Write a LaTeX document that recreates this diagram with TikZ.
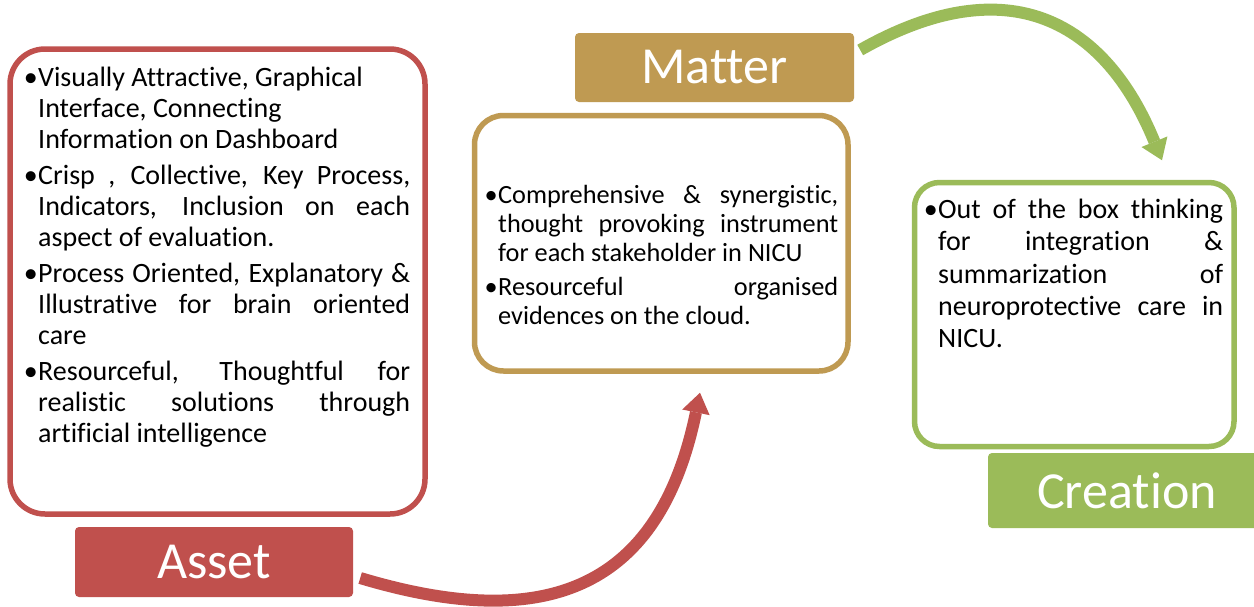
\documentclass[tikz,border=0pt]{standalone}
\usepackage{fontspec}
\setmainfont{Carlito}[Ligatures={NoCommon}]
\usetikzlibrary{arrows.meta,calc}

\definecolor{assetred}{HTML}{C0504D}
\definecolor{mattergold}{HTML}{BF9A52}
\definecolor{creategreen}{HTML}{9BBB59}

% bullet hanging to the left of a line, and a line stretched to a fixed width
\newcommand\bulletmark{\llap{•\hspace{0.5pt}}}
\newcommand\jline[2]{\makebox[#1][s]{#2}}

\tikzset{
  panel/.style={draw=#1, line width=5.5pt, fill=white, inner sep=0pt},
  tag/.style={fill=#1, rounded corners=4pt, inner sep=0pt, text=white,
              font=\fontsize{52}{60}\selectfont},
  bodyline/.style={anchor=base west, inner sep=0pt, font=\fontsize{28}{31}\selectfont},
  smallline/.style={anchor=base west, inner sep=0pt, font=\fontsize{26.3}{29}\selectfont},
  flow/.style={draw=#1, line width=12pt,
               -{Triangle[length=20pt,width=28pt,line width=0pt]}},
}

\begin{document}
\begin{tikzpicture}[x=1pt,y=-1pt]
\useasboundingbox (0,0) rectangle (1254,606);
\clip (0,0) rectangle (1254,606);
\fill[white] (0,0) rectangle (1254,606);

% content panels
\node[panel=assetred, rounded corners=35pt, minimum width=415pt, minimum height=465pt]
  (assetbox) at (217.5,281.5) {};
\node[panel=mattergold, rounded corners=29pt, minimum width=373.5pt, minimum height=255.5pt]
  (matterbox) at (661.25,243.25) {};
\node[panel=creategreen, rounded corners=25pt, minimum width=319.5pt, minimum height=264pt]
  (createbox) at (1074.25,314.5) {};

% title tags
\node[tag=assetred, minimum width=278pt, minimum height=70pt] (assettag) at (214,562) {Asset};
\node[tag=mattergold, minimum width=279pt, minimum height=69pt] (mattertag) at (714.5,67.5) {Matter};
\node[tag=creategreen, minimum width=278pt, minimum height=75pt] (createtag) at (1127,490.5) {Creation};

% Asset panel text
\node[bodyline] (a1) at (38,86.5) {\bulletmark Visually Attractive, Graphical};
\node[bodyline] (a2) at (38,117.5) {Interface, Connecting};
\node[bodyline] (a3) at (38,148.5) {Information on Dashboard};
\node[bodyline] (a4) at (38,184) {\bulletmark\jline{372pt}{Crisp , Collective, Key Process,}};
\node[bodyline] (a5) at (38,215) {\jline{372pt}{Indicators, Inclusion on each}};
\node[bodyline] (a6) at (38,246) {aspect of evaluation.};
\node[bodyline] (a7) at (38,282) {\bulletmark\jline{372pt}{Process Oriented, Explanatory \&}};
\node[bodyline] (a8) at (38,313) {\jline{372pt}{Illustrative for brain oriented}};
\node[bodyline] (a9) at (38,344) {care};
\node[bodyline] (a10) at (38,380) {\bulletmark\jline{372pt}{Resourceful, Thoughtful for}};
\node[bodyline] (a11) at (38,411) {\jline{372pt}{realistic solutions through}};
\node[bodyline] (a12) at (38,442) {artificial intelligence};

% Matter panel text
\node[smallline] (m1) at (498,203) {\bulletmark\jline{340pt}{Comprehensive \& synergistic,}};
\node[smallline] (m2) at (498,232) {\jline{340pt}{thought provoking instrument}};
\node[smallline] (m3) at (498,261) {for each stakeholder in NICU};
\node[smallline] (m4) at (498,295) {\bulletmark\jline{340pt}{Resourceful organised}};
\node[smallline] (m5) at (498,324) {evidences on the cloud.};

% Creation panel text
\node[bodyline] (c1) at (938,218) {\bulletmark\jline{285pt}{Out of the box thinking}};
\node[bodyline] (c2) at (938,250) {\jline{285pt}{for integration \&}};
\node[bodyline] (c3) at (938,283) {\jline{285pt}{summarization of}};
\node[bodyline] (c4) at (938,315) {\jline{285pt}{neuroprotective care in}};
\node[bodyline] (c5) at (938,347) {NICU.};

% curved flow arrows
\draw[flow=assetred] ($(assettag.east)+(7,16)$)
  .. controls (550,635) and (660,586) .. ($(matterbox.south)+(38.75,19)$);
\draw[flow=creategreen] ($(mattertag.east)+(6,-17.5)$)
  .. controls (1010,-35) and (1106,23) .. ($(createbox.north)+(87.75,-19.5)$);
\end{tikzpicture}
\end{document}
